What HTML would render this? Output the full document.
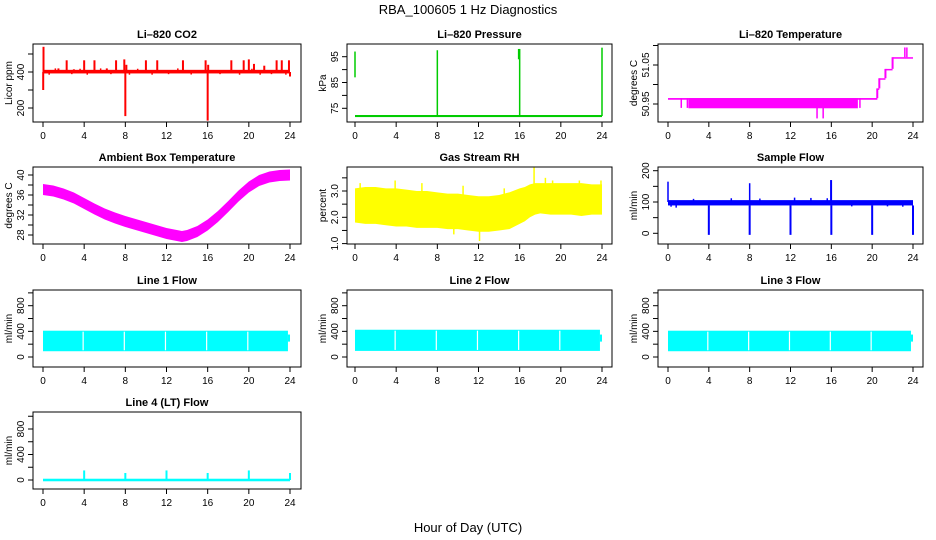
<!DOCTYPE html>
<html><head><meta charset="utf-8"><style>
body{margin:0;background:#fff;}
svg{display:block;font-family:"Liberation Sans",sans-serif;}
</style></head><body>
<svg id="chart" width="936" height="540" viewBox="0 0 936 540" xmlns="http://www.w3.org/2000/svg">
<text x="468" y="14" font-size="13" text-anchor="middle">RBA_100605  1 Hz Diagnostics</text>
<text x="468" y="532" font-size="13" text-anchor="middle">Hour of Day (UTC)</text>
</svg>
<script>
// ---- data ----
const xTicks = [0,4,8,12,16,20,24];
const co2Spikes = [[0.05,540],[0.02,300],[0.4,410],[1.5,420],[2.3,465],[3.0,415],[4.0,465],[5.0,465],[6.2,420],[7.1,465],[7.9,470],[8.0,155],[8.1,440],[10.0,465],[11.1,465],[13.6,465],[15.8,465],[16.0,130],[16.05,440],[18.3,465],[19.5,465],[20.0,470],[20.5,445],[21.5,435],[22.7,465],[23.2,465],[23.9,465],[24.0,375]];
const co2Base = [392,412];
const co2Noise = [[0.6,385],[1.2,420],[2.8,388],[3.6,418],[4.3,385],[5.6,420],[6.6,388],[8.4,385],[9.2,418],[10.6,385],[12.2,388],[13.1,420],[14.4,386],[17.2,388],[19.1,385],[20.3,418],[21.1,385],[22.2,388],[23.6,385]];
const presSpikes = [[0.0,87,97],[8.0,72,97.5],[16.0,72,98],[15.9,94,98],[24.0,72,98.5]];
const presBase = 72;
const tempBandHours = [2.0,18.6];
const tempBandLow = 50.939;
const tempBaseVal = 50.965;
const tempSpikes = [[1.3,50.94],[1.9,50.94],[12.8,50.94],[14.6,50.913],[15.2,50.913],[18.8,50.94]];
const tempStepHours = [0,20.5,20.7,21.3,22.0,24];
const tempStepVals = [50.965,50.99,51.016,51.04,51.07];
const tempUpSpikes = [[23.2,51.095],[23.4,51.095]];
const ambHours = [0,1,2,3,4,5,6,7,8,9,10,11,12,13,13.5,14,15,16,17,18,19,20,21,22,23,24];
const ambVals = [37.1,36.8,36.2,35.4,34.3,33.2,32.2,31.4,30.7,30.1,29.5,28.9,28.3,27.9,27.7,27.9,28.7,30.0,31.7,33.7,35.8,37.6,38.9,39.6,39.9,40.0];
const rhHours = [0,1,2,3,4,5,6,7,8,9,10,11,12,13,14,15,16,16.5,17,17.5,18,19,20,21,22,23,24];
const rhLow = [1.8,1.75,1.75,1.7,1.65,1.65,1.6,1.6,1.6,1.55,1.55,1.5,1.45,1.45,1.5,1.55,1.75,1.85,2.0,2.1,2.15,2.1,2.1,2.1,2.05,2.1,2.1];
const rhHigh = [3.1,3.15,3.15,3.1,3.1,3.05,3.0,3.0,2.95,2.9,2.9,2.85,2.8,2.8,2.85,2.95,3.1,3.15,3.25,3.3,3.3,3.3,3.3,3.3,3.3,3.25,3.25];
const rhSpikes = [[0.5,3.3],[3.9,3.4],[6.5,3.3],[10.5,3.2],[14.5,3.1],[17.4,3.9],[18.5,3.5],[19.2,3.4],[21.8,3.4],[23.9,3.4],[12.1,1.1],[9.6,1.35]];
const sfBase = [89,106];
const sfNoise = [[0.3,85],[0.8,82],[2.5,110],[6.2,112],[9.0,111],[12.4,114],[14.0,113],[15.6,112],[18.0,86],[21.5,86],[23.0,85]];
const sfDrops = [4,8,12,16,20,24];
const sfDropVal = -5;
const sfSpikes = [[0.0,165],[8.0,160],[16.0,170],[15.95,170]];
const flowLow = [90,95,90];
const flowHigh = [410,425,410];
const flowGaps = [3.9,7.9,11.9,15.9,19.9];
const lt4Base = [-20,20];
const lt4Spikes = [[4,150],[8,110],[12,150],[16,110],[20,150],[24,110]];

// ---- layout ----
const svg = document.getElementById('chart');
const NS = 'http://www.w3.org/2000/svg';
const cols = [{l:33,r:301,x0:43,x24:290},{l:347,r:612,x0:355,x24:602},{l:658,r:923,x0:668,x24:913}];
const rows = [{t:44,b:122},{t:167,b:244},{t:290,b:367},{t:412,b:489}];
function mk(tag, attrs, parent){const e=document.createElementNS(NS,tag);for(const k in attrs)e.setAttribute(k,attrs[k]);(parent||svg).appendChild(e);return e;}

function panel(name, title, ylab, ci, ri, cal, ticks, labels){
  const c=cols[ci], r=rows[ri];
  const g=mk('g',{});
  
  
  const sx=h=>c.x0+(c.x24-c.x0)*h/24;
  const sy=v=>cal[1]+(v-cal[0])*(cal[3]-cal[1])/(cal[2]-cal[0]);
  const plot=mk('g',{},g);
  
  
  const box=mk('rect',{x:c.l,y:r.t,width:c.r-c.l,height:r.b-r.t,fill:'none',stroke:'#000','stroke-width':1},g);
  
  
  const t=mk('text',{x:(c.l+c.r)/2,y:r.t-6,'font-size':11,'font-weight':'bold','text-anchor':'middle'},g);
  t.textContent=title;
  
  
  const yt=mk('text',{transform:`translate(${c.l-21},${(r.t+r.b)/2}) rotate(-90)`,'font-size':10,'text-anchor':'middle'},g);
  yt.textContent=ylab;
  
  
  const xa=mk('g',{},g);
  
  
  xTicks.forEach(h=>{
    mk('line',{x1:sx(h),x2:sx(h),y1:r.b,y2:r.b+5,stroke:'#000'},xa);
    const tx=mk('text',{x:sx(h),y:r.b+17,'font-size':10,'text-anchor':'middle'},xa);
    tx.textContent=h;
    
    
  });
  const ya=mk('g',{},g);
  
  
  ticks.forEach(v=>{
    mk('line',{x1:c.l-5,x2:c.l,y1:sy(v),y2:sy(v),stroke:'#000'},ya);
  });
  labels.forEach(v=>{
    const tx=mk('text',{transform:`translate(${c.l-9},${sy(v)}) rotate(-90)`,'font-size':10,'text-anchor':'middle'},ya);
    tx.textContent=v;
    
    
  });
  return {g:plot,sx,sy};
}
function vline(p,h,a,b,col,w){mk('line',{x1:p.sx(h),x2:p.sx(h),y1:p.sy(a),y2:p.sy(b),stroke:col,'stroke-width':w||1.5},p.g);}
function hband(p,h1,h2,a,b,col){const y1=p.sy(a),y2=p.sy(b);mk('rect',{x:p.sx(h1),y:Math.min(y1,y2),width:p.sx(h2)-p.sx(h1),height:Math.max(1.5,Math.abs(y2-y1)),fill:col},p.g);}
function bandPoly(p,hs,lo,hi,col){let pts=hs.map((h,i)=>p.sx(h)+','+p.sy(hi[i]));for(let i=hs.length-1;i>=0;i--)pts.push(p.sx(hs[i])+','+p.sy(lo[i]));mk('polygon',{points:pts.join(' '),fill:col},p.g);}

// CO2
let p=panel('co2','Li\u2013820 CO2','Licor ppm',0,0,[400,72,200,108],[200,300,400,500],['200','400']);
hband(p,0,24,co2Base[0],co2Base[1],'#f00');
co2Noise.forEach(s=>vline(p,s[0],400,s[1],'#f00',1.5));
co2Spikes.forEach(s=>vline(p,s[0],400,s[1],'#f00',2));
// Pressure
p=panel('pressure','Li\u2013820 Pressure','kPa',1,0,[95,56.7,75,108.3],[75,80,85,90,95],['75','85','95']);
hband(p,0,24,presBase-0.4,presBase+0.4,'#0c0');
presSpikes.forEach(s=>vline(p,s[0],s[1],s[2],'#0c0',1.5));
// Temperature
p=panel('li820-temp','Li\u2013820 Temperature','degrees C',2,0,[51.05,65,50.95,104],[50.95,51.0,51.05,51.1],['50.95','51.05']);
hband(p,0,20.5,tempBaseVal,tempBaseVal,'#f0f');
hband(p,tempBandHours[0],tempBandHours[1],tempBandLow,tempBaseVal,'#f0f');
tempSpikes.forEach(s=>vline(p,s[0],tempBaseVal,s[1],'#f0f',1.5));
for(let i=0;i<tempStepVals.length;i++){hband(p,tempStepHours[i],tempStepHours[i+1],tempStepVals[i],tempStepVals[i],'#f0f');if(i>0)vline(p,tempStepHours[i],tempStepVals[i-1],tempStepVals[i],'#f0f',2);}
tempUpSpikes.forEach(s=>vline(p,s[0],51.07,s[1],'#f0f',1.5));
// Ambient
p=panel('ambient-temp','Ambient Box Temperature','degrees C',0,1,[40,175,28,235],[28,30,32,34,36,38,40],['28','32','36','40']);
bandPoly(p,ambHours,ambVals.map(v=>v-1.1),ambVals.map(v=>v+1.1),'#f0f');
// RH
p=panel('rh','Gas Stream RH','percent',1,1,[3.0,191,2.0,217.3],[1.0,1.5,2.0,2.5,3.0,3.5],['1.0','2.0','3.0']);
bandPoly(p,rhHours,rhLow,rhHigh,'#ff0');
rhSpikes.forEach(s=>vline(p,s[0],2.4,s[1],'#ff0',1.5));
// Sample flow
p=panel('sample-flow','Sample Flow','ml/min',2,1,[0,233.3,200,170.7],[0,50,100,150,200],['0','100','200']);
hband(p,0,24,sfBase[0],sfBase[1],'#00f');
sfNoise.forEach(s=>vline(p,s[0],97,s[1],'#00f',1.5));
sfDrops.forEach(h=>vline(p,h,sfBase[0],sfDropVal,'#00f',2));
sfSpikes.forEach(s=>vline(p,s[0],100,s[1],'#00f',1.5));
// Line flows
const flowDefs=[['line1-flow','Line 1 Flow',0,2],['line2-flow','Line 2 Flow',1,2],['line3-flow','Line 3 Flow',2,2]];
flowDefs.forEach((d,i)=>{
  const q=panel(d[0],d[1],'ml/min',d[2],d[3],[0,357,800,305.7],[0,200,400,600,800,1000],['0','400','800']);
  hband(q,0,23.8,flowLow[i],flowHigh[i],'#0ff');
  hband(q,23.8,24,240,350,'#0ff');
  flowGaps.forEach(h=>vline(q,h,flowLow[i]+15,flowHigh[i]-15,'#fff',1.2));
});
// Line 4
p=panel('line4-flow','Line 4 (LT) Flow','ml/min',0,3,[0,480,800,429],[0,200,400,600,800,1000],['0','400','800']);
hband(p,0,24,lt4Base[0],lt4Base[1],'#0ff');
lt4Spikes.forEach(s=>vline(p,s[0],0,s[1],'#0ff',2));
</script>
</body></html>
